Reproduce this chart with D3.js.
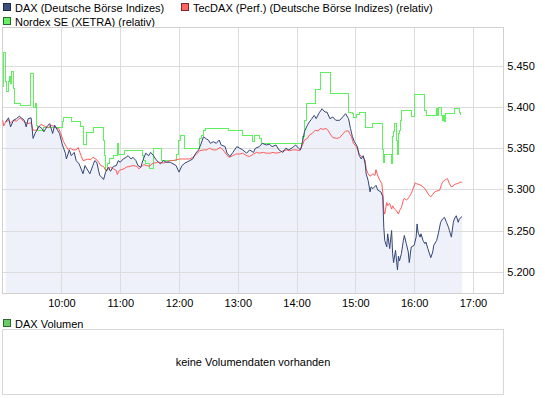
<!DOCTYPE html>
<html>
<head>
<meta charset="utf-8">
<script src="https://cdn.jsdelivr.net/npm/d3@7"></script>
<style>
  html, body { margin: 0; padding: 0; background: #fff; }
  svg { display: block; font-family: "Liberation Sans", Arial, sans-serif; font-size: 11px; }
</style>
</head>
<body>
<svg id="chart" width="545" height="398"></svg>
<script>
// ---- data ----
const legendLabels = ["DAX (Deutsche Börse Indizes)", "TecDAX (Perf.) (Deutsche Börse Indizes) (relativ)", "Nordex SE (XETRA) (relativ)"];
const volumeLegend = "DAX Volumen";
const volumeMessage = "keine Volumendaten vorhanden";
const xTickLabels = ["10:00", "11:00", "12:00", "13:00", "14:00", "15:00", "16:00", "17:00"];
const yTickValues = [5.200, 5.250, 5.300, 5.350, 5.400, 5.450];

const daxTimes = ["9:03","9:06","9:08","9:11","9:14","9:17","9:19","9:22","9:24","9:26","9:29","9:31","9:33","9:35","9:37","9:40","9:42","9:45","9:48","9:51","9:53","9:56","9:58",
"10:01","10:04","10:05","10:08","10:10","10:13","10:15","10:18","10:22","10:24","10:26","10:29","10:32","10:34","10:36","10:39","10:41","10:43","10:45","10:48","10:50","10:53","10:56","10:58",
"11:00","11:03","11:06","11:08","11:11","11:13","11:16","11:18","11:21","11:23","11:26","11:29","11:31","11:34","11:36","11:39","11:41","11:44","11:47","11:51","11:57",
"12:00","12:03","12:06","12:11","12:14","12:17","12:20","12:22","12:25","12:27","12:30","12:32","12:35","12:38","12:41","12:43","12:47","12:49","12:52","12:55","12:59",
"13:02","13:05","13:09","13:12","13:16","13:18","13:22","13:25","13:29","13:32","13:35","13:39","13:42","13:46","13:49","13:52","13:56","13:59",
"14:02","14:04","14:06","14:08","14:11","14:13","14:15","14:18","14:20","14:23","14:26","14:29","14:31","14:34","14:37","14:40","14:44","14:47","14:50","14:53","14:55","14:57","14:59",
"15:02","15:04","15:06","15:08","15:10","15:11","15:13","15:15","15:16","15:18","15:21","15:23","15:26","15:28","15:29","15:30","15:32","15:33","15:35","15:37","15:38","15:39","15:41","15:43","15:44","15:45","15:47","15:49","15:50","15:52","15:54","15:55","15:57",
"16:00","16:02","16:03","16:04","16:06","16:07","16:09","16:11","16:12","16:14","16:17","16:19","16:20","16:23","16:25","16:27","16:29","16:31","16:33","16:35","16:36","16:38","16:40","16:41","16:43","16:45","16:46","16:49"];
const daxValues = [5.382,5.387,5.376,5.384,5.386,5.389,5.387,5.384,5.376,5.386,5.387,5.362,5.368,5.372,5.377,5.374,5.370,5.376,5.380,5.368,5.378,5.372,5.368,
5.354,5.344,5.337,5.348,5.341,5.345,5.335,5.331,5.319,5.329,5.325,5.319,5.329,5.335,5.333,5.317,5.315,5.312,5.321,5.327,5.322,5.328,5.329,5.335,
5.333,5.337,5.339,5.341,5.337,5.339,5.335,5.329,5.327,5.335,5.344,5.341,5.345,5.341,5.337,5.333,5.331,5.335,5.333,5.333,5.329,
5.321,5.329,5.332,5.335,5.337,5.344,5.348,5.354,5.364,5.362,5.360,5.356,5.358,5.356,5.360,5.354,5.352,5.344,5.340,5.345,5.352,
5.350,5.348,5.344,5.348,5.345,5.350,5.352,5.356,5.354,5.355,5.352,5.354,5.348,5.345,5.350,5.348,5.351,5.354,
5.350,5.348,5.358,5.370,5.378,5.382,5.385,5.390,5.386,5.393,5.398,5.394,5.394,5.386,5.388,5.384,5.384,5.388,5.392,5.386,5.374,5.364,5.358,
5.352,5.341,5.337,5.341,5.331,5.319,5.311,5.297,5.303,5.301,5.305,5.299,5.297,5.291,5.254,5.238,5.230,5.246,5.228,5.250,5.222,5.211,5.226,5.202,5.219,5.213,5.222,5.238,5.244,5.234,5.224,5.211,5.230,
5.232,5.242,5.258,5.248,5.242,5.246,5.238,5.234,5.236,5.228,5.217,5.224,5.232,5.238,5.248,5.260,5.264,5.266,5.260,5.254,5.250,5.242,5.260,5.264,5.268,5.260,5.264,5.267];

const tecdaxTimes = ["9:00","9:01","9:03","9:06","9:08","9:11","9:14","9:16","9:18","9:21","9:24","9:26","9:29","9:31","9:34","9:36","9:39","9:41","9:44","9:47","9:49","9:52","9:54","9:57","9:59",
"10:02","10:05","10:07","10:09","10:12","10:15","10:17","10:20","10:22","10:25","10:27","10:30","10:32","10:35","10:38","10:40","10:43","10:45","10:48","10:50","10:53","10:56","10:57","10:59",
"11:01","11:04","11:06","11:10","11:13","11:17","11:19","11:22","11:24","11:27","11:30","11:32","11:35","11:38","11:40","11:44","11:47","11:51","11:54","11:57",
"12:01","12:08","12:11","12:14","12:18","12:21","12:25","12:28","12:31","12:35","12:38","12:42","12:45","12:48","12:51","12:55","12:58",
"13:02","13:05","13:09","13:12","13:16","13:19","13:22","13:26","13:29","13:33","13:36","13:39","13:43","13:46","13:50","13:53","13:56",
"14:00","14:03","14:06","14:08","14:11","14:13","14:16","14:19","14:22","14:24","14:27","14:30","14:32","14:35","14:37","14:41","14:44","14:47","14:50","14:53","14:54","14:56","14:58",
"15:01","15:04","15:06","15:08","15:10","15:11","15:13","15:15","15:16","15:18","15:20","15:21","15:23","15:25","15:27","15:28","15:29","15:30","15:32","15:33","15:35","15:37","15:38","15:40","15:42","15:44","15:45","15:47","15:49","15:50","15:52","15:54","15:55","15:57","15:59",
"16:01","16:02","16:05","16:07","16:09","16:11","16:13","16:15","16:17","16:19","16:21","16:23","16:26","16:28","16:29","16:32","16:34","16:36","16:38","16:40","16:41","16:44","16:46","16:48","16:49"];
const tecdaxValues = [5.384,5.377,5.382,5.384,5.381,5.384,5.383,5.385,5.387,5.383,5.381,5.380,5.381,5.372,5.372,5.374,5.379,5.378,5.376,5.375,5.378,5.377,5.375,5.374,5.369,
5.358,5.352,5.348,5.350,5.348,5.348,5.351,5.341,5.335,5.336,5.337,5.336,5.339,5.337,5.333,5.329,5.328,5.323,5.325,5.327,5.325,5.323,5.318,5.323,
5.324,5.325,5.327,5.328,5.329,5.328,5.325,5.328,5.330,5.329,5.328,5.331,5.332,5.333,5.333,5.332,5.333,5.335,5.335,5.336,
5.337,5.337,5.337,5.339,5.343,5.347,5.348,5.348,5.350,5.348,5.348,5.351,5.348,5.343,5.339,5.341,5.343,
5.343,5.344,5.341,5.340,5.343,5.345,5.344,5.345,5.344,5.344,5.345,5.344,5.345,5.347,5.348,5.347,5.348,
5.348,5.347,5.354,5.360,5.362,5.366,5.368,5.372,5.371,5.374,5.373,5.374,5.372,5.366,5.363,5.362,5.363,5.367,5.371,5.371,5.368,5.364,5.356,
5.352,5.343,5.340,5.339,5.335,5.325,5.319,5.316,5.317,5.319,5.317,5.324,5.316,5.311,5.307,5.296,5.274,5.270,5.284,5.280,5.283,5.276,5.280,5.276,5.274,5.270,5.274,5.278,5.287,5.289,5.287,5.289,5.291,5.295,5.301,
5.308,5.307,5.306,5.305,5.303,5.301,5.297,5.293,5.291,5.294,5.297,5.298,5.299,5.306,5.309,5.312,5.313,5.307,5.303,5.304,5.306,5.307,5.308,5.309,5.308];

const nordexTimes = ["9:00","9:01","9:03","9:04","9:06","9:07","9:08","9:09","9:11","9:12","9:18","9:28","9:31","9:33","9:34","9:35","9:36","9:42",
"10:01","10:02","10:10","10:19","10:22","10:26","10:33","10:43","10:44","10:45","10:47","10:49","10:53","10:57","10:58",
"11:04","11:23","11:24","11:26","11:30","11:34","11:42","11:57","11:59",
"12:01","12:06","12:21","12:23","12:25","12:27","12:51",
"13:05","13:15","13:17","13:22","13:24",
"14:06","14:08","14:10","14:19","14:24","14:35","14:53","14:57","14:58",
"15:01","15:04","15:10","15:17","15:28","15:29","15:30","15:37","15:38","15:39","15:40","15:42","15:43","15:44","15:45","15:46","15:47","15:57",
"16:00","16:11","16:13","16:23","16:24","16:25","16:28","16:29","16:30","16:31","16:32","16:41","16:46","16:47"];
const nordexValues = [5.425,5.467,5.431,5.419,5.431,5.437,5.429,5.443,5.423,5.404,5.402,5.441,5.400,5.404,5.396,5.378,5.372,5.375,
5.382,5.387,5.382,5.377,5.355,5.369,5.375,5.360,5.341,5.323,5.331,5.337,5.341,5.356,5.343,
5.347,5.341,5.335,5.331,5.325,5.350,5.335,5.343,5.360,
5.366,5.350,5.362,5.366,5.372,5.374,5.371,
5.366,5.358,5.366,5.362,5.356,
5.364,5.384,5.404,5.422,5.442,5.416,5.394,5.392,5.387,
5.391,5.393,5.375,5.380,5.348,5.333,5.343,5.332,5.364,5.370,5.380,5.360,5.343,5.368,5.372,5.384,5.396,5.389,
5.415,5.396,5.390,5.398,5.390,5.400,5.390,5.384,5.390,5.382,5.392,5.398,5.394,5.390];

// ---- helpers ----
const toMin = s => { const p = s.split(":").map(Number); return (p[0] - 9) * 60 + p[1]; };
const zip = (t, v) => t.map((s, i) => ({ t: toMin(s), v: v[i] }));
const dax = zip(daxTimes, daxValues);
const tecdax = zip(tecdaxTimes, tecdaxValues);
const nordex = zip(nordexTimes, nordexValues);

// ---- layout ----
const plot = { left: 2.7, right: 503.3, top: 27, bottom: 293.3 };
const x = d3.scaleLinear().domain([0, 511]).range([plot.left, plot.right]);
const y = d3.scaleLinear().domain([5.1737, 5.4974]).range([plot.bottom, plot.top]);

const colors = { dax: "#34457a", tecdax: "#ff5a5a", nordex: "#5ef05e", fill: "#eef1f9", grid: "#dcdcdc", vol: "#66cc66" };

const svg = d3.select("#chart");

// legend
const legend = [
  { label: legendLabels[0], color: "#3d4f7c", stroke: "#1f2a44", x: 3, y: 3 },
  { label: legendLabels[1], color: "#ff6363", stroke: "#7a2a2a", x: 181, y: 3 },
  { label: legendLabels[2], color: "#66f066", stroke: "#2b6a2b", x: 3, y: 17 }
];
legend.forEach(d => {
  svg.append("rect").attr("x", d.x + 0.5).attr("y", d.y + 0.5).attr("width", 7).attr("height", 7)
    .attr("fill", d.color).attr("stroke", d.stroke).attr("stroke-width", 1);
  svg.append("text").attr("x", d.x + 12).attr("y", d.y + 8.5).attr("fill", "#000").text(d.label);
});

// area fill under DAX
svg.append("path").datum(dax)
  .attr("fill", colors.fill)
  .attr("d", d3.area().x(d => x(d.t)).y0(plot.bottom).y1(d => y(d.v)));

// grid via axes
const xTicks = xTickLabels.map(toMin);
const xAxis = d3.axisBottom(x).tickValues(xTicks).tickFormat((d, i) => xTickLabels[i])
  .tickSize(-(plot.bottom - plot.top)).tickSizeOuter(0).tickPadding(6);
const gx = svg.append("g").attr("transform", `translate(0,${plot.bottom})`).call(xAxis);
gx.select(".domain").remove();
gx.selectAll("line").attr("stroke", colors.grid).attr("shape-rendering", "crispEdges");
gx.selectAll("text").attr("fill", "#000").style("font-size", "11px").style("font-family", "Liberation Sans, Arial, sans-serif");

const yAxis = d3.axisRight(y).tickValues(yTickValues).tickFormat(d3.format(".3f"))
  .tickSize(-(plot.right - plot.left)).tickSizeOuter(0).tickPadding(4);
const gy = svg.append("g").attr("transform", `translate(${plot.right},0)`).call(yAxis);
gy.select(".domain").remove();
gy.selectAll("line").attr("stroke", colors.grid).attr("shape-rendering", "crispEdges");
gy.selectAll("text").attr("fill", "#000").style("font-size", "11px").style("font-family", "Liberation Sans, Arial, sans-serif");

// plot border
svg.append("rect").attr("x", plot.left).attr("y", plot.top)
  .attr("width", plot.right - plot.left).attr("height", plot.bottom - plot.top)
  .attr("fill", "none").attr("stroke", "#d0d0d0").attr("shape-rendering", "crispEdges");

// lines
svg.append("path").datum(nordex).attr("fill", "none").attr("stroke", colors.nordex).attr("stroke-width", 1)
  .attr("shape-rendering", "crispEdges")
  .attr("d", d3.line().x(d => x(d.t)).y(d => y(d.v)).curve(d3.curveStepAfter));
svg.append("path").datum(tecdax).attr("fill", "none").attr("stroke", colors.tecdax).attr("stroke-width", 1)
  .attr("d", d3.line().x(d => x(d.t)).y(d => y(d.v)));
svg.append("path").datum(dax).attr("fill", "none").attr("stroke", colors.dax).attr("stroke-width", 1)
  .attr("d", d3.line().x(d => x(d.t)).y(d => y(d.v)));

// volume panel
svg.append("rect").attr("x", 3.5).attr("y", 319.5).attr("width", 7).attr("height", 7)
  .attr("fill", colors.vol).attr("stroke", "#2b6a2b");
svg.append("text").attr("x", 15).attr("y", 327.5).attr("fill", "#000").text(volumeLegend);
svg.append("rect").attr("x", plot.left).attr("y", 329.5)
  .attr("width", plot.right - plot.left).attr("height", 64.5)
  .attr("fill", "#fff").attr("stroke", "#d8d8d8").attr("shape-rendering", "crispEdges");
svg.append("text").attr("x", (plot.left + plot.right) / 2).attr("y", 366)
  .attr("text-anchor", "middle").attr("fill", "#000").text(volumeMessage);
</script>
</body>
</html>
